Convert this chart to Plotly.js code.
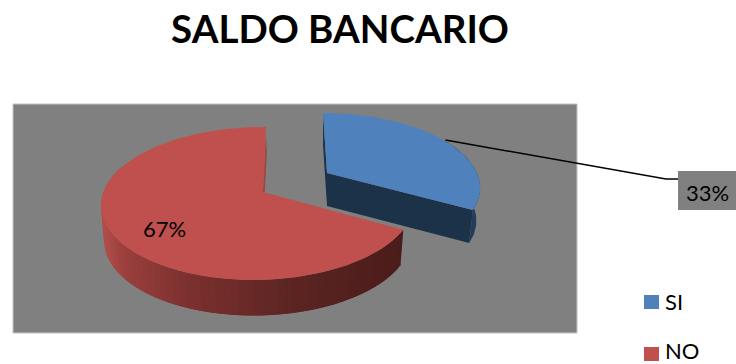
<!DOCTYPE html>
<html>
<head>
<meta charset="utf-8">
<script src="https://cdn.plot.ly/plotly-3.0.1.min.js"></script>
<style>html,body{margin:0;padding:0;background:#fff;overflow:hidden}</style>
</head>
<body>
<div id="chart" style="width:736px;height:364px"></div>
<script>
// Survey answers
const categories = ['SI', 'NO'];
const values = [33, 67];
const topColors = ['#4f81bd', '#c0504d'];
const chartTitle = 'SALDO BANCARIO';

const total = values.reduce((a, b) => a + b, 0);
const pct = v => Math.round(v / total * 100) + '%';
const siEnd = values[0] / total * 360;

// Perspective view of each slice: the SI slice is pulled out of the pie
const views = {
  SI: {cx: 327, cy: 173, R: 150, S: 70.4, k: 0.173, m: 0, sh: -4.7, depth: 33, shrink: 0.975},
  NO: {cx: 263, cy: 192, R: 154.7, S: 74.8, k: 0.15, m: 0.03, sh: 3.5, depth: 35.5, shrink: 0.98}
};

function project(view, deg, radius, lower) {
  const t = deg * Math.PI / 180;
  const X = radius * Math.sin(t), Y = radius * Math.cos(t);
  const w = 1 + view.k * Y + view.m * X;
  let dx = (view.R * X + view.sh * Y) / w;
  let dy = -view.S * Y / w;
  if (lower) { dx *= view.shrink; dy += view.depth; }
  return [view.cx + dx, view.cy + dy];
}

function arc(view, from, to, lower) {
  const pts = [];
  const n = Math.max(2, Math.ceil(Math.abs(to - from) / 1.5));
  for (let i = 0; i <= n; i++) pts.push(project(view, from + (to - from) * i / n, 1, lower));
  return pts;
}

function poly(pts, color) {
  return {
    type: 'scatter', mode: 'lines', fill: 'toself', fillcolor: color,
    x: pts.map(p => p[0]), y: pts.map(p => p[1]),
    line: {color: color, width: 0}, hoverinfo: 'skip', showlegend: false
  };
}

// Shading of the red rim from left (lit) to right (dark), by screen x
const rimStops = [[102, [178, 78, 74]], [125, [152, 63, 60]], [190, [122, 48, 46]], [290, [92, 37, 34]], [405, [74, 28, 26]]];
function rimColor(x) {
  let a = rimStops[0], b = rimStops[rimStops.length - 1];
  for (let i = 0; i < rimStops.length - 1; i++) {
    if (x >= rimStops[i][0] && x <= rimStops[i + 1][0]) { a = rimStops[i]; b = rimStops[i + 1]; break; }
  }
  const f = Math.min(1, Math.max(0, (x - a[0]) / (b[0] - a[0] || 1)));
  const c = a[1].map((v, i) => Math.round(v + (b[1][i] - v) * f));
  return `rgb(${c.join(',')})`;
}

const traces = [];

// SI slice: rim, cut faces, top
const vs = views.SI;
const siRim = arc(vs, 60, siEnd, false).concat(arc(vs, siEnd, 60, true));
traces.push(poly(siRim, '#223c5c'));
const vTop = project(vs, 0, 0, false), vLow = project(vs, 0, 0, true);
traces.push(poly([project(vs, 0, 1, false), vTop, vLow, project(vs, 0, 1, true)], '#1c3249'));
traces.push(poly([vTop, project(vs, siEnd, 1, false), project(vs, siEnd, 1, true), vLow], '#1c3249'));
traces.push(poly([vTop].concat(arc(vs, 0, siEnd, false)), topColors[0]));

// NO slice: shaded rim strips laid so each overlaps the next, inner sliver, top
const vn = views.NO;
const rimEnd = 290, rimStep = 2.5;
for (let a = siEnd; a < rimEnd; a += rimStep) {
  const b = Math.min(a + rimStep * 2, rimEnd);
  const strip = arc(vn, a, b, false).concat(arc(vn, b, a, true));
  traces.push(poly(strip, rimColor(project(vn, a + rimStep / 2, 1, false)[0])));
}
const nTop = project(vn, 0, 0, false), nOuter = project(vn, 360, 1, false);
traces.push(poly([nTop].concat(arc(vn, siEnd, 360, false)), topColors[1]));
traces.push(poly([
  [nOuter[0], nOuter[1] + 8],
  [nOuter[0] + 0.8, nOuter[1] + 25],
  [nTop[0] + 1.8, nTop[1]],
  nTop
], '#a24341'));

// Leader from the middle of the SI arc to its outside label
const mid = project(vs, siEnd / 2, 1, false);
traces.push({
  type: 'scatter', mode: 'lines',
  x: [mid[0] + 2, 666, 678], y: [mid[1], 179, 179],
  line: {color: '#000', width: 1.5}, hoverinfo: 'skip', showlegend: false
});

const labelFont = {family: 'Lato, sans-serif', size: 22, color: '#000'};

const shapes = [
  {type: 'rect', layer: 'below', x0: 13, x1: 577, y0: 104, y1: 333,
   fillcolor: '#808080', line: {color: '#c4c4c4', width: 1}},
  {type: 'rect', layer: 'below', x0: 678, x1: 736, y0: 171, y1: 210,
   fillcolor: '#808080', line: {width: 0}}
];
const annotations = [
  {x: 164, y: 228, text: pct(values[1])},
  {x: 707, y: 192, text: pct(values[0])}
].map(a => Object.assign(a, {showarrow: false, font: labelFont, xanchor: 'center', yanchor: 'middle'}));

// Legend swatches and names
const swatchY = [302, 354];
const nameY = [301, 350.5];
categories.forEach((name, i) => {
  shapes.push({type: 'rect', x0: 644, x1: 659, y0: swatchY[i] - 7, y1: swatchY[i] + 7,
    fillcolor: topColors[i], line: {width: 0}});
  annotations.push({x: 663, y: nameY[i], text: name, showarrow: false,
    font: labelFont, xanchor: 'left', yanchor: 'middle'});
});

const layout = {
  width: 736, height: 364,
  margin: {l: 0, r: 0, t: 0, b: 0},
  paper_bgcolor: '#fff', plot_bgcolor: 'rgba(0,0,0,0)',
  title: {
    text: '<b>' + chartTitle + '</b>',
    font: {family: 'Lato, sans-serif', size: 38.5, color: '#000'},
    x: 340 / 736, xanchor: 'center', y: 1 - 30 / 364, yanchor: 'middle'
  },
  xaxis: {range: [0, 736], visible: false, fixedrange: true},
  yaxis: {range: [364, 0], visible: false, fixedrange: true},
  showlegend: false, shapes, annotations
};

Plotly.newPlot('chart', traces, layout, {displayModeBar: false, staticPlot: true});
</script>
</body>
</html>
